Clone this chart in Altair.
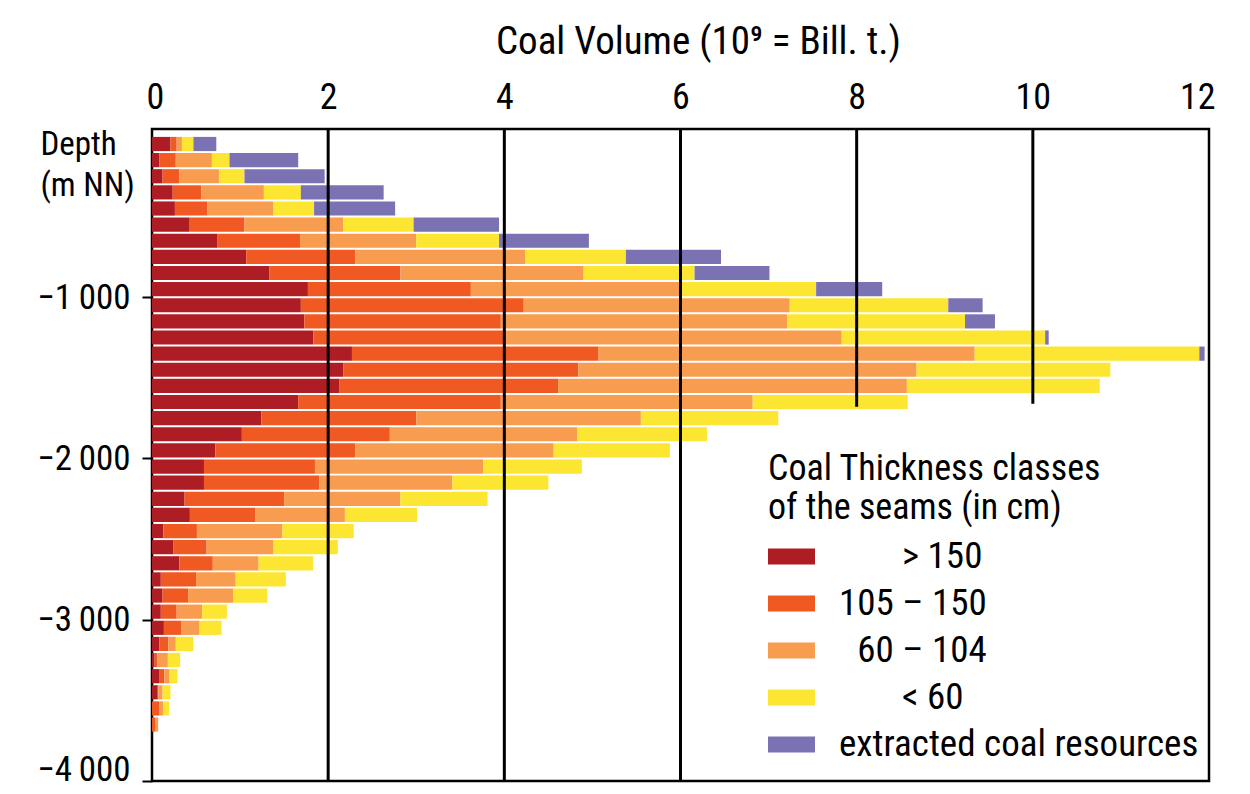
import altair as alt
import pandas as pd

# ---------------- data ----------------
# top of each 100 m depth interval (m NN)
depth_top = [0, -100, -200, -300, -400, -500, -600, -700, -800, -900,
             -1000, -1100, -1200, -1300, -1400, -1500, -1600, -1700, -1800, -1900,
             -2000, -2100, -2200, -2300, -2400, -2500, -2600, -2700, -2800, -2900,
             -3000, -3100, -3200, -3300, -3400, -3500, -3600]

classes = ["> 150", "105 – 150", "60 – 104", "< 60", "extracted coal resources"]
colors = ["#AE1C24", "#F05A22", "#F89C50", "#FDE632", "#7A72B3"]

# coal volume (10^9 t) per depth interval and thickness class
vol_gt150 = [0.21, 0.085, 0.12, 0.235, 0.26, 0.42, 0.745, 1.07, 1.33, 1.77,
             1.69, 1.73, 1.83, 2.27, 2.17, 2.13, 1.66, 1.24, 1.02, 0.72,
             0.59, 0.59, 0.37, 0.43, 0.13, 0.24, 0.31, 0.10, 0.12, 0.10,
             0.135, 0.085, 0.03, 0.08, 0.065, 0.0, 0.0]
vol_105_150 = [0.07, 0.185, 0.19, 0.325, 0.37, 0.63, 0.935, 1.24, 1.49, 1.85,
               2.53, 2.23, 2.19, 2.80, 2.67, 2.48, 2.30, 1.76, 1.68, 1.59,
               1.26, 1.31, 1.13, 0.74, 0.38, 0.38, 0.38, 0.40, 0.29, 0.18,
               0.195, 0.10, 0.03, 0.06, 0.005, 0.085, 0.04]
vol_60_104 = [0.06, 0.41, 0.45, 0.71, 0.75, 1.12, 1.32, 1.93, 2.08, 2.38,
              3.02, 3.25, 3.81, 4.27, 3.84, 3.96, 2.86, 2.55, 2.13, 2.25,
              1.91, 1.51, 1.32, 1.02, 0.97, 0.76, 0.52, 0.45, 0.51, 0.29,
              0.21, 0.085, 0.12, 0.06, 0.05, 0.04, 0.03]
vol_lt60 = [0.13, 0.20, 0.29, 0.42, 0.46, 0.80, 0.94, 1.14, 1.26, 1.54,
            1.80, 2.02, 2.31, 2.55, 2.20, 2.19, 1.76, 1.56, 1.47, 1.32,
            1.12, 1.09, 0.99, 0.82, 0.81, 0.73, 0.62, 0.57, 0.39, 0.28,
            0.25, 0.20, 0.14, 0.09, 0.09, 0.07, 0.0]
vol_extracted = [0.26, 0.78, 0.91, 0.94, 0.92, 0.97, 1.02, 1.08, 0.85, 0.75,
                 0.39, 0.34, 0.04, 0.06, 0.0, 0.0, 0.0, 0.0, 0.0, 0.0,
                 0.0, 0.0, 0.0, 0.0, 0.0, 0.0, 0.0, 0.0, 0.0, 0.0,
                 0.0, 0.0, 0.0, 0.0, 0.0, 0.0, 0.0]

x_ticks = [0, 2, 4, 6, 8, 10, 12]
y_ticks = [-1000, -2000, -3000, -4000]

# vertical grid lines (value, lower end in m)
grid_x = [2, 4, 6, 8, 10]
grid_bottom = [-4000, -4000, -4000, -1680, -1660]

BIN = 100        # depth interval (m)
GAP = 6          # half white gap between rows (m)
DEPTH_MAX = 43   # top of plotting area (m)

series = [vol_gt150, vol_105_150, vol_60_104, vol_lt60, vol_extracted]
rows = []
for i, d in enumerate(depth_top):
    start = 0.0
    for cls, vals in zip(classes, series):
        v = vals[i]
        if v > 0:
            rows.append({"cls": cls, "x0": start, "x1": start + v,
                         "yt": d - GAP, "yb": d - BIN + GAP})
        start += v
df = pd.DataFrame(rows)
gdf = pd.DataFrame({"x0": grid_x, "yt": [DEPTH_MAX] * len(grid_x), "yb": grid_bottom})

FONT = ("'Noto Sans Condensed', 'Roboto Condensed', 'Liberation Sans Narrow', "
        "'Arial Narrow', 'Liberation Sans', sans-serif")
THIN = "\u2009"
FIG = "\u2007"
NB = "\u00a0"
ZW = "\u200b"      # zero-width char so that leading spaces survive text trimming
MINUS = "\u2212"

x_scale = alt.Scale(domain=[0, 12], nice=False, zero=False)
y_scale = alt.Scale(domain=[-4000, DEPTH_MAX], nice=False, zero=False)

x_axis = alt.Axis(orient="top", values=x_ticks, labelFont=FONT, labelFontSize=36,
                  labelColor="black", labelPadding=13, ticks=False, domain=False,
                  grid=False, labelFlush=True, labelFlushOffset=6,
                  title="Coal Volume (10⁹ = Bill. t.)", titleFont=FONT,
                  titleFontSize=39, titleFontWeight="normal", titleColor="black",
                  titleX=546, titleY=-68, titleAlign="center", titleBaseline="bottom")
y_axis = alt.Axis(values=y_ticks,
                  labelExpr="(datum.value < 0 ? '" + MINUS + "' : '') + "
                            "replace(format(abs(datum.value), ','), ',', '" + THIN + "')",
                  labelFont=FONT, labelFontSize=35, labelColor="black", labelPadding=12,
                  labelFlush=True, labelFlushOffset=6,
                  tickSize=10, tickWidth=2, tickColor="black", domain=False, grid=False,
                  title=["Depth", "(m NN)"], titleAngle=0, titleAlign="left",
                  titleBaseline="top", titleX=-112, titleY=-1, titleFont=FONT,
                  titleFontSize=33, titleFontWeight="normal", titleLineHeight=41,
                  titleColor="black")

pad3 = ZW + FIG + FIG + FIG + NB
pad1 = ZW + FIG
label_expr = ("(datum.value == '> 150' || datum.value == '< 60') ? '" + pad3 + "' + datum.value : "
              "datum.value == '60 – 104' ? '" + pad1 + "' + datum.value : datum.value")

legend = alt.Legend(orient="none", legendX=616, legendY=323,
                    title=["Coal Thickness classes", "of the seams (in cm)"],
                    titleFont=FONT, titleFontSize=36, titleFontWeight="normal",
                    titleColor="black", titleLineHeight=39, titlePadding=6,
                    titleLimit=800, labelFont=FONT, labelFontSize=37, labelColor="black",
                    labelOffset=24, labelLimit=800, labelExpr=label_expr,
                    symbolType="M-1,-0.34H1V0.34H-1Z", symbolSize=2209,
                    symbolStrokeWidth=0, symbolOpacity=1, rowPadding=5, padding=0)

bars = alt.Chart(df).mark_bar(strokeWidth=0).encode(
    x=alt.X("x0:Q", scale=x_scale, axis=x_axis),
    x2="x1:Q",
    y=alt.Y("yt:Q", scale=y_scale, axis=y_axis),
    y2="yb:Q",
    color=alt.Color("cls:N", scale=alt.Scale(domain=classes, range=colors), legend=legend),
)

grid = alt.Chart(gdf).mark_rule(color="black", strokeWidth=3).encode(
    x=alt.X("x0:Q", scale=x_scale, axis=x_axis),
    y=alt.Y("yt:Q", scale=y_scale, axis=y_axis),
    y2="yb:Q",
)

chart = alt.layer(bars, grid).properties(
    width=1057, height=652,
    autosize=alt.AutoSizeParams(type="none"),
    padding={"left": 144, "top": 121, "right": 25, "bottom": 13},
).configure_view(stroke="black", strokeWidth=2.5)

chart.save("out.html", embed_options={"renderer": "svg", "actions": False})
